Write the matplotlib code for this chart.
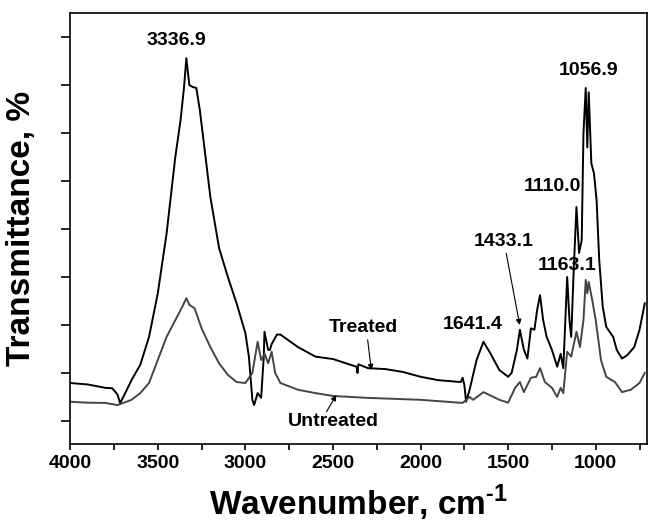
import numpy as np
import matplotlib.pyplot as plt
import matplotlib as mpl

mpl.rcParams['font.family'] = 'Liberation Sans'
mpl.rcParams['font.weight'] = 'bold'
mpl.rcParams['mathtext.fontset'] = 'custom'
mpl.rcParams['mathtext.bf'] = 'Liberation Sans:bold'
mpl.rcParams['mathtext.rm'] = 'Liberation Sans:bold'

# treated sample (black)
wn_tr = [4000, 3900, 3800, 3760, 3730, 3715, 3690, 3650, 3600, 3550, 3500, 3450, 3400,
         3370, 3350, 3337, 3320, 3300, 3280, 3260, 3230, 3200, 3150, 3100, 3050,
         3000, 2980, 2960, 2950, 2930, 2910, 2895, 2891, 2870, 2860, 2850, 2820,
         2800, 2700, 2600, 2500, 2400, 2365, 2360, 2355, 2300, 2200, 2100, 2000,
         1900, 1770, 1760, 1750, 1740, 1720, 1680, 1641, 1600, 1550, 1500, 1480,
         1450, 1433, 1410, 1390, 1370, 1350, 1335, 1318, 1300, 1280, 1250, 1220,
         1200, 1185, 1163, 1150, 1140, 1125, 1110, 1095, 1080, 1070, 1057, 1048,
         1040, 1025, 1010, 995, 980, 960, 940, 900, 880, 850, 820, 780, 750, 720]
t_tr = [7.9, 7.6, 6.9, 6.8, 5.5, 3.7, 5.5, 8.5, 11.7, 17.5, 26.6, 39, 55,
        62.7, 69.6, 75.6, 70, 69.6, 69.4, 64.8, 55.8, 46.7, 36, 30, 24.5,
        18.3, 13.4, 4.4, 3.3, 5.8, 4.8, 13.4, 18.6, 14.8, 14.8, 16, 18,
        18, 15.4, 13.4, 12.9, 11.7, 11.3, 10, 11.8, 11, 10.8, 10.2, 9.2,
        8.5, 8.1, 9, 7.5, 4, 6.5, 12.7, 16.5, 14, 10.6, 9.2, 10,
        14.8, 19, 14.8, 13, 19.3, 19, 23, 26.2, 21, 17.5, 14.8, 11.3,
        14, 11, 30, 21, 17.5, 32, 44.6, 35, 37.7, 60, 69.4, 57,
        68.5, 53.7, 51.6, 46, 33.5, 23.8, 19.6, 17.5, 14.8, 13, 13.7, 15.4, 19, 24.5]

# untreated sample (grey)
wn_un = [4000, 3900, 3800, 3730, 3650, 3600, 3550, 3500, 3450, 3400, 3360, 3337,
         3320, 3290, 3250, 3200, 3150, 3100, 3050, 3000, 2960, 2930, 2910, 2890,
         2870, 2850, 2830, 2800, 2700, 2600, 2500, 2300, 2000, 1760, 1720, 1700,
         1641, 1550, 1500, 1460, 1433, 1410, 1370, 1340, 1318, 1290, 1250, 1220,
         1200, 1185, 1163, 1140, 1110, 1090, 1070, 1057, 1048, 1040, 1020, 1000,
         970, 940, 890, 850, 800, 750, 720]
t_un = [4, 3.8, 3.75, 3.3, 4.4, 5.8, 7.9, 12.7, 17.5, 21, 23.8, 25.6,
        24.2, 23.5, 19.3, 15.4, 12, 9.6, 8.1, 7.9, 10, 16.5, 12.7, 14,
        12, 14.4, 10, 7.9, 6.5, 5.8, 5.2, 4.8, 4.4, 3.75, 5, 4.4,
        6, 4.4, 3.8, 6.9, 8.1, 6, 9, 9.2, 11, 8.1, 6.9, 5,
        6.9, 5.8, 14.4, 13.4, 18.6, 15.4, 21, 29.4, 26.6, 29, 25.2, 21,
        12.7, 9.2, 8.1, 6, 6.5, 7.9, 10]

peak_labels = ['3336.9', '1056.9', '1110.0', '1163.1', '1641.4']
peak_x = [3392, 1039, 1247, 1162, 1702]
peak_y = [79.4, 73, 48.8, 32.5, 20]

fig = plt.figure(figsize=(6.5, 5.26), dpi=100)
ax = fig.add_axes([0.108, 0.156, 0.888, 0.819])

ax.plot(wn_tr, t_tr, color='black', lw=1.4)
ax.plot(wn_un, t_un, color='#454545', lw=1.4)

for s, x, y in zip(peak_labels, peak_x, peak_y):
    ax.text(x, y, s, ha='center', va='center', fontsize=14, fontweight='bold')

arw = dict(arrowstyle='-|>', color='black', lw=0.8, mutation_scale=8, shrinkA=0, shrinkB=0)
ax.annotate('1433.1', xy=(1434, 20), xytext=(1523, 37.3), ha='center', va='center',
            fontsize=14, fontweight='bold', arrowprops=arw)
ax.annotate('', xy=(2281, 10.6), xytext=(2302, 16.9), arrowprops=arw)
ax.text(2324, 19.4, 'Treated', ha='center', va='center', fontsize=14, fontweight='bold')
ax.annotate('', xy=(2481, 5.4), xytext=(2537, 1.9), arrowprops=arw)
ax.text(2497, -0.2, 'Untreated', ha='center', va='center', fontsize=14, fontweight='bold')

ax.set_xlim(4000, 705)
ax.set_ylim(-4.8, 85)
ax.set_xticks([4000, 3500, 3000, 2500, 2000, 1500, 1000])
ax.set_xticks(np.arange(3750, 700, -500), minor=True)
ax.set_yticks([0, 20, 40, 60, 80])
ax.set_yticks([10, 30, 50, 70], minor=True)
ax.set_yticklabels([])
ax.tick_params(axis='x', which='both', direction='out', length=4.5, width=1.2, labelsize=14)
ax.tick_params(axis='y', which='both', direction='out', length=6.5, width=1.2)
for lab in ax.get_xticklabels():
    lab.set_fontweight('bold')
for sp in ax.spines.values():
    sp.set_linewidth(1.2)

ax.set_xlabel(r'Wavenumber, cm$^{\text{-1}}$', fontsize=24, fontweight='bold', labelpad=8)
ax.set_ylabel('Transmittance, %', fontsize=24, fontweight='bold', labelpad=14)

plt.savefig('out.png', dpi=100)
